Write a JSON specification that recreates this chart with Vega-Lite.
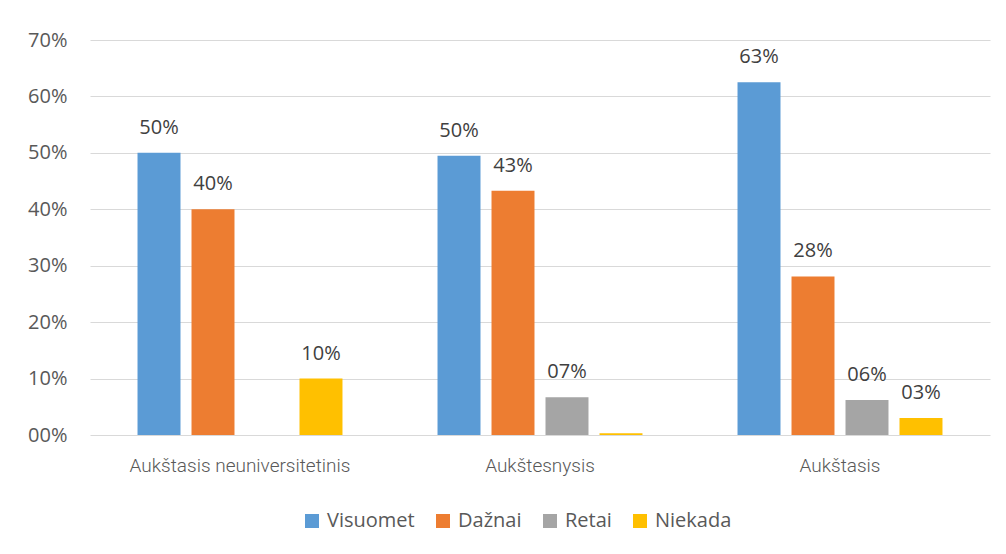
{
  "$schema": "https://vega.github.io/schema/vega-lite/v6.json",
  "width": 900,
  "height": 395,
  "autosize": {"type": "none"},
  "padding": {"left": 90, "top": 40, "right": 16, "bottom": 119},
  "background": "white",
  "config": {
    "view": {"stroke": null},
    "font": "Open Sans",
    "axis": {"labelColor": "#595959", "gridColor": "#d9d9d9", "domainColor": "#d9d9d9", "tickColor": "#d9d9d9"}
  },
  "data": {
    "values": [
      {"g": "Aukštasis neuniversitetinis", "s": "Visuomet", "v": 0.50},
      {"g": "Aukštasis neuniversitetinis", "s": "Dažnai", "v": 0.40},
      {"g": "Aukštasis neuniversitetinis", "s": "Retai", "v": 0.0},
      {"g": "Aukštasis neuniversitetinis", "s": "Niekada", "v": 0.10},
      {"g": "Aukštesnysis", "s": "Visuomet", "v": 0.495},
      {"g": "Aukštesnysis", "s": "Dažnai", "v": 0.433},
      {"g": "Aukštesnysis", "s": "Retai", "v": 0.067},
      {"g": "Aukštesnysis", "s": "Niekada", "v": 0.003},
      {"g": "Aukštasis", "s": "Visuomet", "v": 0.625},
      {"g": "Aukštasis", "s": "Dažnai", "v": 0.281},
      {"g": "Aukštasis", "s": "Retai", "v": 0.062},
      {"g": "Aukštasis", "s": "Niekada", "v": 0.030}
    ]
  },
  "encoding": {
    "x": {
      "field": "g", "type": "nominal", "sort": null, "title": null,
      "scale": {"paddingInner": 0, "paddingOuter": 0},
      "axis": {"labelAngle": 0, "labelFontSize": 19, "labelFont": "Roboto", "labelFontWeight": 300, "labelPadding": 21, "labelLimit": 400, "ticks": false, "domain": false, "labelColor": "#595959"}
    },
    "xOffset": {
      "field": "s", "type": "nominal", "sort": ["Visuomet", "Dažnai", "Retai", "Niekada"],
      "scale": {"paddingInner": 0.204, "paddingOuter": 0.88}
    },
    "y": {
      "field": "v", "type": "quantitative", "title": null,
      "scale": {"domain": [0, 0.7], "nice": false},
      "axis": {"values": [0, 0.1, 0.2, 0.3, 0.4, 0.5, 0.6, 0.7], "format": "03.0%", "labelFontSize": 20, "labelPadding": 23, "ticks": false, "domain": false}
    }
  },
  "layer": [
    {
      "mark": {"type": "bar"},
      "encoding": {
        "color": {
          "field": "s", "type": "nominal", "sort": ["Visuomet", "Dažnai", "Retai", "Niekada"],
          "scale": {"domain": ["Visuomet", "Dažnai", "Retai", "Niekada"], "range": ["#5B9BD5", "#ED7D31", "#A5A5A5", "#FFC000"]},
          "legend": {"title": null, "orient": "none", "legendX": 212, "legendY": 471, "direction": "horizontal", "symbolType": "square", "symbolSize": 196, "symbolStrokeWidth": 0, "symbolOpacity": 1, "labelFontSize": 20, "labelColor": "#595959", "labelOffset": 5, "columnPadding": 18, "padding": 0}
        }
      }
    },
    {
      "transform": [{"filter": "datum.v >= 0.01"}],
      "mark": {"type": "text", "baseline": "alphabetic", "dy": -19, "fontSize": 20, "color": "#404040"},
      "encoding": {"text": {"field": "v", "format": "03.0%"}}
    }
  ]
}
